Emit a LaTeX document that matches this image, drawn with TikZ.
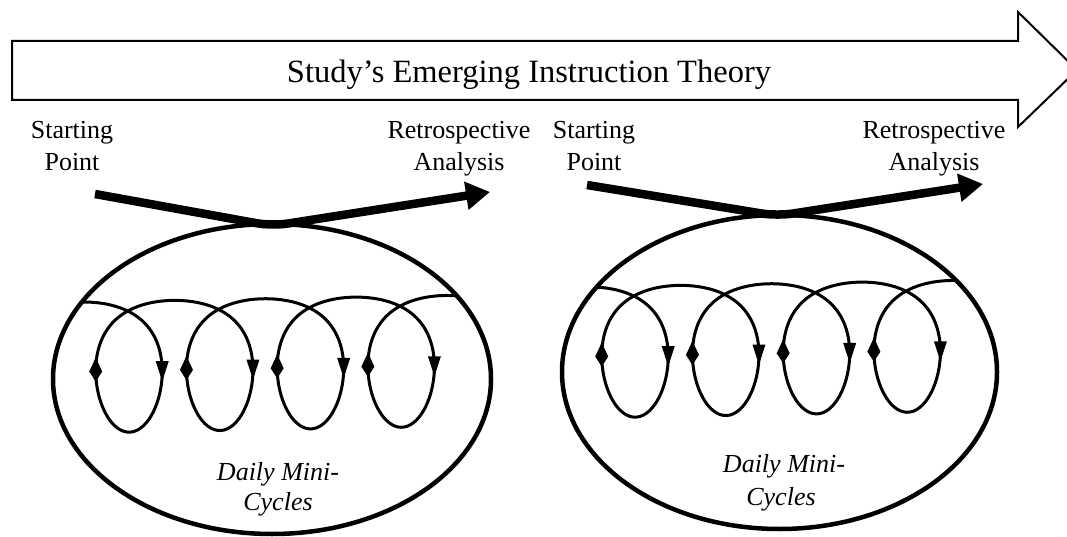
\documentclass[tikz,border=0pt]{standalone}
\usepackage{fontspec}
\setmainfont{Liberation Serif}
\usetikzlibrary{arrows.meta,shapes.geometric}
\newcommand\minicyc[6]{%
  \begin{scope}
    \clip (#3,#4) ellipse [x radius=#5pt, y radius=#6pt];
    \draw[loopline] plot[domain=-0.5:25.6, samples=320, smooth] ({#1+trx(\x)},{#2+try(\x)});
  \end{scope}
  \foreach \k in {0,...,3}{
    \pgfmathsetmacro\tR{1.837+6.2832*\k}
    \pgfmathsetmacro\tL{4.446+6.2832*\k}
    \fill ({#1+trx(\tR)},{#2+try(\tR)}) ++(-6.5,-10) -- ++(13,0) -- ++(-6.5,20) -- cycle;
    \fill ({#1+trx(\tL)},{#2+try(\tL)}) ++(0,-13) -- ++(6.5,14) -- ++(-6.5,10) -- ++(-6.5,-10) -- cycle;
  }%
}
\begin{document}
\begin{tikzpicture}[x=1pt,y=-1pt,
  lbl/.style={font=\fontsize{26}{31}\selectfont, inner sep=0pt, anchor=base},
  cyc/.style={font=\fontsize{26}{31}\selectfont\itshape, inner sep=0pt, anchor=base},
  titlefont/.style={font=\fontsize{32.5}{38}\selectfont, inner sep=0pt, anchor=base},
  bigarrow/.style={draw, line width=2pt, line join=miter},
  thickarrow/.style={line width=8.5pt, rounded corners=16pt, -{Triangle[length=24pt,width=27pt]}},
  outer/.style={draw, ellipse, line width=4.5pt, inner sep=0pt},
  loopline/.style={line width=3pt},
  declare function={trx(\t)=14.44*\t+54*sin(\t r); try(\t)=-65.5*cos(\t r)-14*pow(sin(\t r),2)-0.26*\t;}
]
\useasboundingbox (0,0) rectangle (1067,537);
\clip (0,0) rectangle (1067,537);
\fill[white] (0,0) rectangle (1067,537);

% big theory arrow
\draw[bigarrow] (12,41) -- (1018,41) -- (1018,12) -- (1077,70) -- (1018,127) -- (1018,100) -- (12,100) -- cycle;
\node[titlefont] (title) at (529,83) {Study’s Emerging Instruction Theory};

% labels
\node[lbl] (st1) at (72,139) {Starting};
\node[lbl] (pt1) at (72,171) {Point};
\node[lbl] (re1) at (459,139) {Retrospective};
\node[lbl] (an1) at (459,171) {Analysis};
\node[lbl] (st2) at (594,139) {Starting};
\node[lbl] (pt2) at (594,171) {Point};
\node[lbl] (re2) at (934,139) {Retrospective};
\node[lbl] (an2) at (934,171) {Analysis};

% ellipses
\node[outer, minimum width=438pt, minimum height=310pt] (e1) at (272,379) {};
\node[outer, minimum width=435pt, minimum height=314pt] (e2) at (779.5,372) {};

% mini cycles
\minicyc{83.6}{367.5}{272}{379}{217}{153}
\minicyc{589.6}{352.5}{779.5}{372}{215.5}{155}

% cycle labels
\node[cyc] (d1) at (278,480) {Daily Mini-};
\node[cyc] (c1) at (278,510) {Cycles};
\node[cyc] (d2) at (784,472) {Daily Mini-};
\node[cyc] (c2) at (781,505) {Cycles};

% thick arrows
\coordinate (s1) at (95,194);
\coordinate (v1) at (272,226);
\coordinate (r1) at (490,192);
\draw[thickarrow] (s1) -- (v1) -- (r1);
\coordinate (s2) at (587,185);
\coordinate (v2) at (777,216);
\coordinate (r2) at (983,184);
\draw[thickarrow] (s2) -- (v2) -- (r2);
\end{tikzpicture}
\end{document}
